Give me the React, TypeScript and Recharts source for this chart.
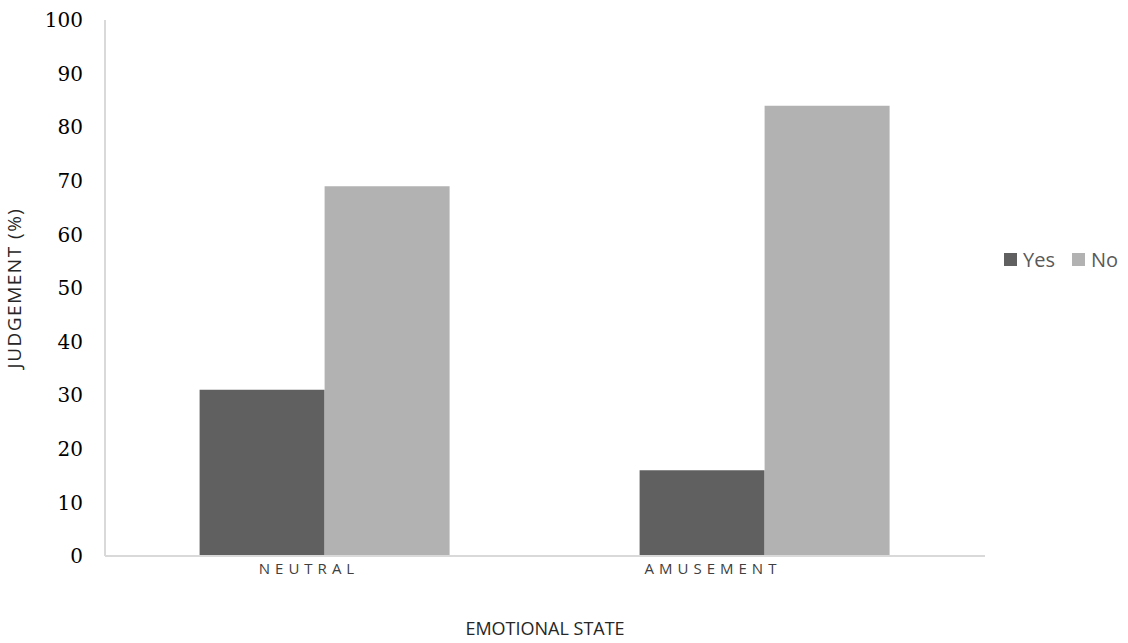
import { Bar, BarChart, Legend, XAxis, YAxis } from "recharts";

const categories = ["NEUTRAL", "AMUSEMENT"];
const yesValues = [31, 16];
const noValues = [69, 84];
const yTicks = [0, 10, 20, 30, 40, 50, 60, 70, 80, 90, 100];
const seriesOrder = ["Yes", "No"];

const data = categories.map((name, i) => ({ name, Yes: yesValues[i], No: noValues[i] }));

// Excel-ish label placement: labels sit left of the bar group
const tickShift = [-16, -52];

function CategoryTick(props: any) {
  const { x, y, payload, index } = props;
  return (
    <text
      x={x + tickShift[index % tickShift.length]}
      y={y + 10}
      textAnchor="middle"
      fill="#404040"
      fontFamily="'Open Sans', sans-serif"
      fontSize={15}
      letterSpacing={5}
    >
      {payload.value}
    </text>
  );
}

function LegendBox({ payload }: any) {
  const items = [...(payload || [])].sort(
    (a: any, b: any) => seriesOrder.indexOf(a.value) - seriesOrder.indexOf(b.value)
  );
  return (
    <div style={{ display: "flex", alignItems: "center", whiteSpace: "nowrap" }}>
      {items.map((item: any) => (
        <span key={item.value} style={{ display: "inline-flex", alignItems: "center", marginRight: 17 }}>
          <span style={{ width: 13, height: 13, background: item.color, marginRight: 6, display: "inline-block" }} />
          <span style={{ color: "#595959", fontFamily: "'Open Sans', sans-serif", fontSize: 20 }}>{item.value}</span>
        </span>
      ))}
    </div>
  );
}

export default function App() {
  return (
    <div style={{ position: "absolute", left: 0, top: 0, width: 1128, height: 643, background: "#fff" }}>
      <BarChart
        width={1128}
        height={643}
        data={data}
        margin={{ top: 20, right: 0, bottom: 0, left: 0 }}
        barCategoryGap="21.5%"
        barGap={0}
      >
        <XAxis
          dataKey="name"
          axisLine={{ stroke: "#d9d9d9", strokeWidth: 2 }}
          tickLine={false}
          tick={<CategoryTick />}
          height={87}
          label={{
            value: "EMOTIONAL STATE",
            position: "insideBottom",
            offset: 8,
            fill: "#262626",
            fontFamily: "'Open Sans', sans-serif",
            fontSize: 18,
          }}
        />
        <YAxis
          width={105}
          domain={[0, 100]}
          ticks={yTicks}
          interval={0}
          axisLine={{ stroke: "#d9d9d9", strokeWidth: 2 }}
          tickLine={false}
          tick={{ fill: "#000", fontFamily: "'DejaVu Serif', serif", fontSize: 20, dx: -14 }}
          label={{
            value: "JUDGEMENT (%)",
            angle: -90,
            position: "insideLeft",
            offset: 14,
            style: { textAnchor: "middle", letterSpacing: 1.5 },
            fill: "#262626",
            fontFamily: "'Open Sans', sans-serif",
            fontSize: 19,
          }}
        />
        <Legend
          layout="horizontal"
          align="right"
          verticalAlign="middle"
          content={<LegendBox />}
          wrapperStyle={{ left: 1004, top: 246, width: 143 }}
        />
        <Bar dataKey="Yes" fill="#606060" isAnimationActive={false} />
        <Bar dataKey="No" fill="#b2b2b2" isAnimationActive={false} />
      </BarChart>
    </div>
  );
}
